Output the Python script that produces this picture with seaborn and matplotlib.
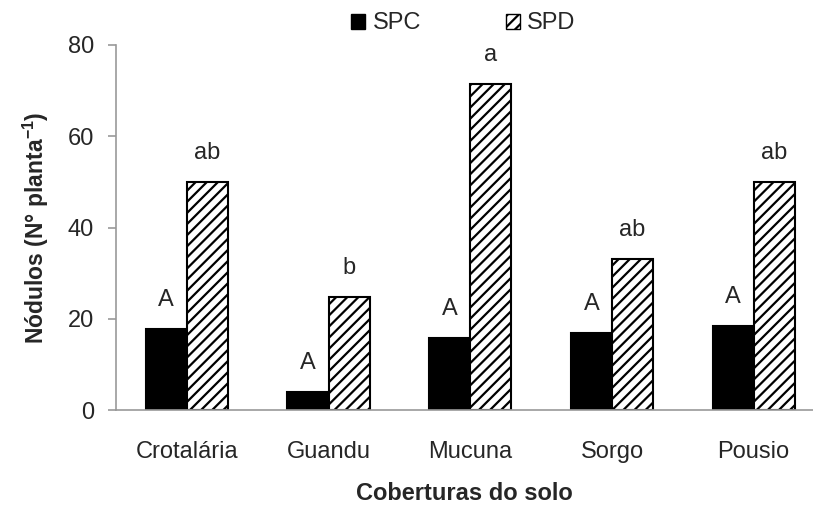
import pandas as pd
import matplotlib
matplotlib.use("Agg")
import matplotlib.pyplot as plt
import seaborn as sns
from matplotlib.patches import Patch

# values
coberturas = ["Crotalária", "Guandu", "Mucuna", "Sorgo", "Pousio"]
spc = [17.8, 4.0, 15.7, 16.9, 18.5]
spd = [50.0, 24.7, 71.5, 33.1, 50.0]
letras_spc = ["A", "A", "A", "A", "A"]
letras_spd = ["ab", "b", "a", "ab", "ab"]

data = pd.DataFrame({
    "cobertura": coberturas * 2,
    "sistema": ["SPC"] * 5 + ["SPD"] * 5,
    "nodulos": spc + spd,
})

sns.set_style("white")
plt.rcParams["font.family"] = ["Liberation Sans", "DejaVu Sans"]
plt.rcParams["hatch.linewidth"] = 1.6
plt.rcParams["mathtext.default"] = "regular"

fig = plt.figure(figsize=(8.13, 5.19), dpi=100)
ax = fig.add_axes([0.1427, 0.21, 0.8573, 0.7033])

sns.barplot(data=data, x="cobertura", y="nodulos", hue="sistema",
            palette={"SPC": "black", "SPD": "white"}, width=0.58,
            edgecolor="black", linewidth=1.5, ax=ax, legend=False)

# hatch the SPD bars and write the letters above every bar
bars = ax.patches[:10]
for i, p in enumerate(bars):
    if i >= 5:
        p.set_hatch("///")
        letra = letras_spd[i - 5]
    else:
        letra = letras_spc[i]
    ax.annotate(letra, (p.get_x() + p.get_width() / 2, p.get_height()),
                xytext=(0, 13), textcoords="offset points",
                ha="center", va="bottom", fontsize=17)

ax.set_ylim(0, 80)
ax.set_yticks([0, 20, 40, 60, 80])
ax.set_xlim(-0.5, -0.5 + 697 / 141.7)

sns.despine(ax=ax)
for s in ["left", "bottom"]:
    ax.spines[s].set_color("#999999")
    ax.spines[s].set_linewidth(1.2)

ax.set_xticks([i - 0.5 for i in range(5)], minor=True)
ax.tick_params(axis="x", which="major", length=0, pad=22, labelsize=17)
ax.tick_params(axis="x", which="minor", length=9, color="#999999", width=1.2, direction="out")
ax.tick_params(axis="y", length=6, color="#999999", width=1.2, direction="out", pad=10, labelsize=17)
ax.tick_params(bottom=True, left=True)

ax.set_xlabel("Coberturas do solo", fontsize=17, fontweight="bold", labelpad=14)
ax.set_ylabel("Nódulos (N° planta$^{-1}$)", fontsize=16.5, fontweight="bold", labelpad=12)

handles = [Patch(facecolor="black", edgecolor="black", label="SPC"),
           Patch(facecolor="white", edgecolor="black", hatch="///", label="SPD")]
fig.legend(handles=handles, loc="center", bbox_to_anchor=(0.57, 0.955), ncol=2,
           frameon=False, fontsize=17, handlelength=0.6, handleheight=0.6,
           handletextpad=0.3, columnspacing=3.6)

fig.savefig("out.png", dpi=100)
